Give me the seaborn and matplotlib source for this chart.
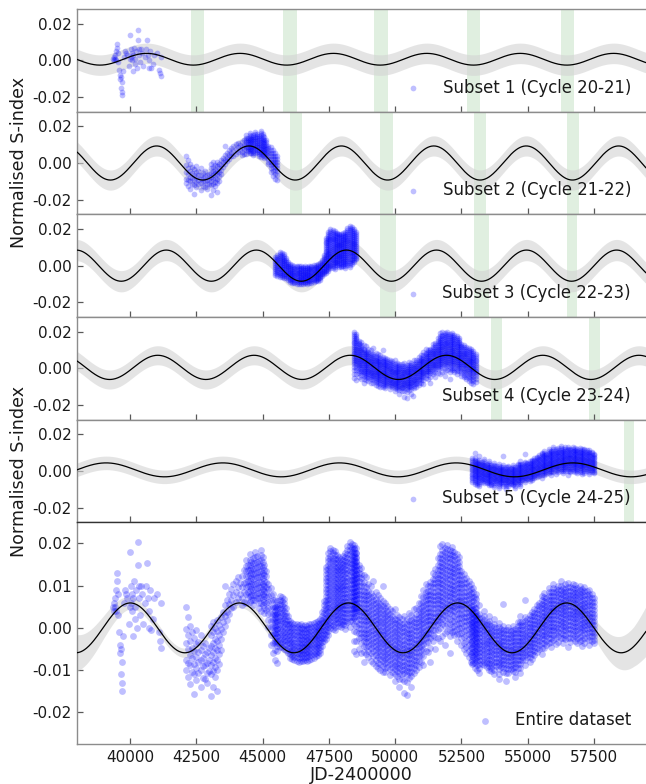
import numpy as np
import pandas as pd
import matplotlib
matplotlib.use("Agg")
import matplotlib.pyplot as plt
import seaborn as sns

sns.set_style("ticks")
plt.rcParams["font.family"] = ["DejaVu Sans"]
plt.rcParams["axes.unicode_minus"] = False

# ------------------------------------------------------------------ data
# S-index values are stored in units of 1e-4
S1_X = [39350, 39380, 39400, 39420, 39450, 39470, 39480, 39500, 39520, 39540,
        39560, 39600, 39620, 39640, 39650, 39660, 39680, 39690, 39700, 39720,
        39760, 39800, 39850, 39900, 39950, 39980, 40000, 40020, 40040, 40060,
        40080, 40100, 40120, 40150, 40180, 40200, 40230, 40260, 40290, 40300,
        40320, 40350, 40380, 40420, 40450, 40500, 40550, 40600, 40650, 40680,
        40700, 40730, 40760, 40790, 40850, 40900, 41000, 41100, 41130, 41150, 41170]
S1_Y = [10, 20, 0, 30, 10, 0, 50, 70, 90, 40,
        -10, -50, -80, -100, -90, -150, -170, -120, -190, -60,
        20, 50, 40, 30, -30, 10, 140, 60, 20, 0,
        40, -60, 30, 70, 10, -20, 50, -40, 164, 110,
        60, 30, -10, 60, 40, -30, 20, 60, 113, 30,
        -40, 0, 50, -44, -20, 30, 40, -50, -70, -87, 20]

S2_COLS = [42100, 42180, 42260, 42340, 42420, 42500, 42580, 42660, 42740, 42820,
           42900, 42980, 43070, 43130, 43200, 43270, 43340, 43420, 43500, 43580,
           43660, 43740, 43820, 43900, 43980, 44060, 44140, 44220, 44300, 44370,
           44440, 44510, 44580, 44650, 44720, 44790, 44860, 44930, 45000, 45070,
           45140, 45220, 45300, 45380, 45460, 45530]
S2_VALS = [[40, -12, -47, -85, -110], [15, -28, -61, -93, -127], [-6, -41, -74, -99, -142],
           [-20, -57, -81, -115], [-33, -64, -95, -119, -167], [-15, -48, -78, -106, -133],
           [-44, -68, -91, -116], [-26, -63, -86, -109, -150], [-53, -82, -100, -128],
           [-46, -73, -99, -131], [-66, -93, -117, -141], [-58, -86, -112],
           [-5, -28, -53, -74, -99, -120, -172], [3, -20, -45, -66, -90, -113, -150],
           [-11, -36, -57, -81, -103, -127], [8, -17, -41, -62, -87, -109, -160],
           [-4, -26, -51, -72, -96], [15, -12, -36, -62], [28, 3, -20], [90, 44, 17, -6],
           [55, 28, 9], [71, 46, 23], [83, 57, 36], [94, 67, 39], [101, 76, 51],
           [110, 86, 61], [96, 71], [113, 87, 61, 44], [126, 97, 76, 51],
           [150, 137, 124, 112, 99, 86, 71, 48], [138, 126, 113, 101, 88, 75, 63],
           [165, 151, 139, 126, 114, 101, 89, 77, 65, 52], [145, 132, 119, 107, 94, 81, 69, 57],
           [155, 143, 130, 118, 105, 93, 80, 68, 55, 44], [170, 157, 144, 132, 119, 107, 94, 82, 69, 55],
           [160, 147, 135, 122, 110, 97, 85, 72, 60], [148, 136, 123, 111, 98, 86, 73, 61, 48, 38],
           [175, 162, 150, 137, 124, 112, 99, 87, 74, 62, 49, 30], [158, 145, 133, 120, 108, 95, 83, 70, 58, 45],
           [140, 127, 115, 102, 90, 77, 65, 52, 38, 25], [125, 112, 99, 87, 74, 62, 49, 32],
           [95, 81, 66, 52, 37, 23, 8, -8], [85, 69, 54, 38, 23, 7, -9, -27, -50],
           [70, 55, 39, 24, 8, -8, -23, -45, -70], [55, 39, 24, 8, -8, -23, -40, -62, -85],
           [40, 22, 5, -12, -29, -46, -64, -94]]

S3_COLS = [45480, 45560, 45640, 45720, 45800, 45880, 45960, 46040, 46120, 46200,
           46280, 46360, 46440, 46520, 46600, 46680, 46760, 46840, 46920, 47000,
           47080, 47160, 47240, 47320, 47400, 47480, 47560, 47640, 47720, 47800,
           47880, 47960, 48040, 48120, 48200, 48280, 48360, 48440, 48520]
S3_VALS = [[45, 34, 24, 14, 4, -7, -17, -28, -39, -50],
           [60, 49, 39, 29, 18, 8, -3, -13, -24, -35, -46, -58],
           [74, 63, 52, 42, 31, 21, 10, 0, -11, -21, -32, -42, -52, -62],
           [70, 59, 49, 38, 27, 16, 6, -5, -16, -27, -38, -49, -62],
           [66, 55, 44, 33, 23, 12, 1, -10, -21, -32, -43, -54, -66],
           [40, 29, 19, 8, -2, -13, -24, -35, -46, -57, -70],
           [20, 10, 0, -10, -20, -31, -41, -52, -63, -76],
           [8, -2, -12, -22, -32, -42, -52, -62, -72, -81, -90],
           [2, -8, -18, -28, -38, -48, -57, -66, -75, -85, -94],
           [-2, -12, -21, -31, -40, -50, -59, -68, -78, -87, -96],
           [0, -10, -20, -29, -39, -48, -58, -68, -78, -88, -98],
           [-4, -14, -23, -33, -42, -52, -62, -71, -81, -90, -100],
           [-2, -12, -21, -31, -41, -50, -60, -69, -79, -88, -98],
           [-5, -15, -24, -34, -43, -53, -62, -72, -81, -90, -99],
           [-3, -13, -22, -32, -41, -51, -60, -69, -78, -87, -96],
           [-6, -15, -25, -34, -44, -53, -62, -71, -80, -89, -98],
           [-2, -12, -21, -30, -40, -49, -58, -67, -77, -86, -95],
           [0, -10, -19, -28, -37, -46, -55, -64, -74, -83, -92],
           [2, -8, -17, -26, -35, -44, -53, -62, -71, -80, -90],
           [5, -5, -14, -23, -32, -41, -50, -59, -68, -77, -86],
           [8, -2, -11, -20, -29, -38, -47, -56, -65, -74, -82],
           [12, 2, -7, -16, -25, -34, -43, -52, -61, -70, -78],
           [30, 20, 10, 1, -9, -19, -29, -38, -48, -58],
           [60, 49, 38, 27, 16, 5, -6, -17, -28, -37, -46],
           [150, 140, 130, 121, 111, 101, 92, 82, 73, 63, 54, 44, 35, 25, 16, 6, -3, -13, -22, -31, -40],
           [185, 174, 164, 153, 143, 133, 122, 112, 102, 92, 81, 71, 61, 51, 41, 30, 20, 10, 0, -10, -20, -30],
           [200, 190, 179, 169, 159, 148, 138, 128, 117, 107, 97, 86, 76, 66, 55, 45, 35, 24, 14, 4, -4, -12],
           [195, 185, 174, 164, 153, 143, 133, 122, 112, 101, 91, 81, 70, 60, 49, 39, 29, 18, 8, -3, -15],
           [190, 180, 169, 159, 148, 138, 127, 117, 106, 96, 85, 75, 64, 54, 43, 33, 22, 12, 1, -9, -18],
           [180, 170, 160, 150, 140, 130, 120, 110, 100, 90, 80, 70, 60, 50, 40, 30, 21, 12, 2],
           [175, 165, 155, 145, 135, 125, 115, 105, 95, 85, 75, 65, 55, 45, 35, 25, 15, 5, -5],
           [170, 160, 150, 140, 130, 120, 110, 100, 90, 80, 70, 60, 50, 40, 30, 20, 10, 0, -10],
           [178, 168, 158, 148, 138, 128, 118, 108, 98, 88, 78, 68, 58, 48, 38, 28, 18, 8, -2],
           [185, 175, 164, 154, 143, 133, 122, 112, 101, 91, 80, 70, 59, 49, 38, 28, 17, 7, -4, -15],
           [205, 195, 184, 174, 163, 153, 142, 132, 121, 111, 100, 90, 79, 69, 58, 48, 37, 27, 16, 5],
           [215, 204, 193, 182, 171, 160, 149, 138, 127, 116, 105, 94, 83, 72, 61, 50, 39, 28, 17, 6, -8],
           [210, 199, 188, 178, 167, 156, 146, 135, 124, 114, 103, 92, 82, 71, 60, 50, 39, 29, 18, 8],
           [200, 189, 179, 168, 158, 147, 137, 126, 116, 105, 95, 84, 74, 63, 53, 42, 32, 18],
           [185, 174, 163, 152, 141, 130, 119, 108, 97, 86, 75, 64, 53, 42, 35]]

S4_COLS = [48450, 48540, 48630, 48720, 48810, 48900, 48990, 49080, 49170, 49260,
           49350, 49440, 49530, 49620, 49710, 49800, 49890, 49980, 50070, 50160,
           50250, 50340, 50430, 50520, 50610, 50700, 50790, 50880, 50970, 51060,
           51150, 51240, 51330, 51420, 51510, 51600, 51690, 51780, 51870, 51960,
           52050, 52140, 52230, 52320, 52410, 52500, 52590, 52680, 52770, 52860,
           52950, 53040]
S4_VALS = [[196, 186, 176, 166, 156, 146, 136, 126, 116, 106, 96, 86, 76, 66, 56, 46, 36, 24, 8, -8, -30, -55],
           [188, 178, 168, 158, 148, 138, 128, 118, 108, 98, 88, 78, 68, 58, 48, 38, 28, 16, 4, -10, -30, -62],
           [150, 140, 130, 120, 110, 100, 90, 80, 70, 60, 50, 40, 30, 20, 10, 0, -12, -25, -50],
           [142, 128, 118, 108, 98, 88, 78, 68, 58, 48, 38, 28, 18, 8, -2, -12, -22, -35, -60],
           [125, 108, 98, 88, 78, 68, 58, 48, 38, 28, 18, 8, -2, -12, -22, -32, -44, -58, -80],
           [120, 96, 86, 76, 66, 56, 46, 36, 26, 16, 6, -4, -14, -24, -34, -46, -62],
           [105, 88, 78, 68, 58, 48, 38, 28, 18, 8, -2, -12, -22, -32, -42, -55, -70],
           [98, 82, 72, 62, 52, 42, 32, 22, 12, 2, -8, -18, -28, -38, -48, -60, -78],
           [110, 76, 66, 56, 46, 36, 26, 16, 6, -4, -14, -24, -34, -44, -54, -66, -82],
           [85, 68, 58, 48, 38, 28, 18, 8, -2, -12, -22, -32, -42, -52, -64, -76, -90],
           [78, 62, 52, 42, 32, 22, 12, 2, -8, -18, -28, -38, -48, -58, -70, -82, -95],
           [70, 56, 46, 36, 26, 16, 6, -4, -14, -24, -34, -44, -54, -64, -74, -86, -100],
           [98, 64, 52, 42, 32, 22, 12, 2, -8, -18, -28, -38, -48, -58, -68, -78, -90, -104],
           [58, 46, 36, 26, 16, 6, -4, -14, -24, -34, -44, -54, -64, -74, -84, -94, -105],
           [52, 40, 30, 20, 10, 0, -10, -20, -30, -40, -50, -60, -70, -80, -92],
           [45, 34, 24, 14, 4, -6, -16, -26, -36, -46, -56, -66, -76, -86, -98, -112],
           [40, 28, 18, 8, -2, -12, -22, -32, -42, -52, -62, -72, -82, -92, -104],
           [44, 22, 12, 2, -8, -18, -28, -38, -48, -58, -68, -78, -88, -98, -110, -125],
           [30, 18, 8, -2, -12, -22, -32, -42, -52, -62, -72, -82, -92, -102, -114],
           [25, 14, 4, -6, -16, -26, -36, -46, -56, -66, -76, -86, -96, -106, -120, -140],
           [22, 10, 0, -10, -20, -30, -40, -50, -60, -70, -80, -90, -100, -110, -122],
           [28, 12, 2, -8, -18, -28, -38, -48, -58, -68, -78, -88, -98, -108, -125, -155],
           [20, 8, -2, -12, -22, -32, -42, -52, -62, -72, -82, -92, -102, -112, -128, -160],
           [35, 16, 6, -4, -14, -24, -34, -44, -54, -64, -74, -84, -94, -104, -118],
           [30, 18, 8, -2, -12, -22, -32, -42, -52, -62, -72, -82, -92, -104, -115, -140],
           [45, 24, 14, 4, -6, -16, -26, -36, -46, -56, -66, -76, -86, -96, -108],
           [48, 32, 22, 12, 2, -8, -18, -28, -38, -48, -58, -68, -78, -88, -100],
           [60, 44, 34, 24, 14, 4, -6, -16, -26, -36, -46, -56, -66, -78, -92],
           [75, 58, 48, 38, 28, 18, 8, -2, -12, -22, -32, -42, -52, -64, -80],
           [90, 72, 62, 52, 42, 32, 22, 12, 2, -8, -18, -28, -38, -50, -66, -88],
           [105, 86, 76, 66, 56, 46, 36, 26, 16, 6, -4, -14, -24, -36, -54],
           [98, 88, 78, 68, 58, 48, 38, 28, 18, 8, -2, -12, -22, -34, -58],
           [108, 98, 88, 78, 68, 58, 48, 38, 28, 18, 8, -2, -12, -24, -48, -80],
           [130, 116, 106, 96, 86, 76, 66, 56, 46, 36, 26, 16, 6, -6, -18, -32],
           [140, 126, 116, 106, 96, 86, 76, 66, 56, 46, 36, 26, 16, 6, -6, -22, -50],
           [165, 148, 138, 128, 118, 108, 98, 88, 78, 68, 58, 48, 38, 28, 18, 8, -6, -25],
           [195, 176, 166, 156, 146, 136, 126, 116, 106, 96, 86, 76, 66, 56, 46, 36, 26, 14, 0, -30],
           [198, 184, 174, 164, 154, 144, 134, 124, 114, 104, 94, 84, 74, 64, 54, 44, 34, 22, 8, -20],
           [190, 180, 170, 160, 150, 140, 130, 120, 110, 100, 90, 80, 70, 60, 50, 40, 30, 18, 4, -12, -40],
           [196, 186, 176, 166, 156, 146, 136, 126, 116, 106, 96, 86, 76, 66, 56, 46, 36, 24, 10, -8],
           [185, 175, 165, 155, 145, 135, 125, 115, 105, 95, 85, 75, 65, 55, 45, 35, 22, 8, -6, -20, -60],
           [192, 182, 172, 162, 152, 142, 132, 122, 112, 102, 92, 82, 72, 62, 52, 42, 30, 16, 2, -10],
           [180, 170, 160, 150, 140, 130, 120, 110, 100, 90, 80, 70, 60, 50, 40, 28, 16, 4, -8, -18],
           [175, 164, 154, 144, 134, 124, 114, 104, 94, 84, 74, 64, 54, 44, 34, 22, 10, -2, -14, -30],
           [168, 156, 146, 136, 126, 116, 106, 96, 86, 76, 66, 56, 46, 36, 24, 12, 0, -15],
           [135, 124, 114, 104, 94, 84, 74, 64, 54, 44, 34, 24, 12, 0, -12, -25, -40],
           [128, 116, 106, 96, 86, 76, 66, 56, 46, 36, 26, 16, 4, -8, -22, -35, -50],
           [118, 106, 96, 86, 76, 66, 56, 46, 36, 26, 16, 6, -6, -18, -32, -45, -60],
           [110, 98, 88, 78, 68, 58, 48, 38, 28, 18, 8, -2, -14, -26, -40, -55, -70],
           [105, 92, 82, 72, 62, 52, 42, 32, 22, 12, 2, -8, -20, -34, -48, -62, -80],
           [95, 84, 74, 64, 54, 44, 34, 24, 14, 4, -6, -16, -28, -42, -56, -70, -83],
           [80, 68, 58, 48, 38, 28, 18, 8, -2, -12, -22, -32, -44, -58, -72]]

S5_COLS = [52910, 53000, 53090, 53180, 53270, 53360, 53450, 53540, 53630, 53720,
           53810, 53900, 53990, 54080, 54170, 54260, 54350, 54440, 54530, 54620,
           54710, 54800, 54890, 54980, 55070, 55160, 55250, 55340, 55430, 55520,
           55610, 55700, 55790, 55880, 55970, 56060, 56150, 56240, 56330, 56420,
           56510, 56600, 56690, 56780, 56870, 56960, 57050, 57140, 57230, 57320,
           57410, 57500]
S5_VALS = [[70, 60, 50, 40, 31, 22, 13, 4, -5, -14, -23, -32, -41, -50, -60],
           [99, 72, 62, 52, 43, 34, 25, 16, 7, -2, -11, -20, -29, -38, -48, -58, -70],
           [55, 46, 37, 28, 19, 10, 1, -8, -17, -26, -35, -44, -54, -64, -75],
           [80, 58, 49, 40, 31, 22, 13, 4, -5, -14, -23, -32, -41, -50, -60, -70, -83],
           [48, 39, 30, 21, 12, 3, -6, -15, -24, -33, -42, -51, -60],
           [65, 53, 44, 35, 26, 17, 8, -1, -10, -19, -28, -37, -46, -55, -64],
           [40, 31, 22, 13, 4, -5, -14, -23, -32, -41, -50, -59, -68],
           [52, 42, 33, 24, 15, 6, -3, -12, -21, -30, -39, -48, -57, -66, -75],
           [30, 21, 12, 3, -6, -15, -24, -33, -42, -51, -60, -69, -78],
           [45, 35, 26, 17, 8, -1, -10, -19, -28, -37, -46, -55, -64, -74, -85],
           [25, 16, 7, -2, -11, -20, -29, -38, -47, -56, -65],
           [36, 26, 17, 8, -1, -10, -19, -28, -37, -46, -55, -64, -73, -84, -95],
           [22, 13, 4, -5, -14, -23, -32, -41, -50, -59, -68],
           [81, 30, 21, 12, 3, -6, -15, -24, -33, -42, -51, -60, -70, -80],
           [20, 11, 2, -7, -16, -25, -34, -43, -52, -61, -70, -82, -100],
           [28, 19, 10, 1, -8, -17, -26, -35, -44, -53, -62, -72, -82],
           [18, 9, 0, -9, -18, -27, -36, -45, -54, -63, -72],
           [30, 21, 12, 3, -6, -15, -24, -33, -42, -51, -60, -69, -78],
           [22, 13, 4, -5, -14, -23, -32, -41, -50, -59, -68, -80, -92],
           [40, 30, 21, 12, 3, -6, -15, -24, -33, -42, -51, -60, -70],
           [54, 40, 31, 22, 13, 4, -5, -14, -23, -32, -41, -50, -60, -71, -83],
           [38, 29, 20, 11, 2, -7, -16, -25, -34, -43, -50],
           [90, 50, 41, 32, 23, 14, 5, -4, -13, -22, -31, -40, -50, -62],
           [45, 36, 27, 18, 9, 0, -9, -18, -27, -36, -45],
           [55, 46, 37, 28, 19, 10, 1, -8, -17, -26, -35, -45, -55],
           [62, 53, 44, 35, 26, 17, 8, -1, -10, -19, -28, -38, -48],
           [70, 61, 52, 43, 34, 25, 16, 7, -2, -11, -20, -30, -40],
           [78, 69, 60, 51, 42, 33, 24, 15, 6, -3, -12, -22, -32],
           [85, 76, 67, 58, 49, 40, 31, 22, 13, 4, -5, -15, -26],
           [100, 90, 81, 72, 63, 54, 45, 36, 27, 18, 9, 0, -10, -22, -37],
           [108, 98, 89, 80, 71, 62, 53, 44, 35, 26, 17, 8, -2, -12, -22],
           [95, 86, 77, 68, 59, 50, 41, 32, 23, 14, 5, -5, -16],
           [120, 110, 100, 91, 82, 73, 64, 55, 46, 37, 28, 19, 10, 0, -12],
           [110, 101, 92, 83, 74, 65, 56, 47, 38, 29, 20, 11, 2, -8, -20],
           [130, 119, 109, 100, 91, 82, 73, 64, 55, 46, 37, 28, 19, 8, -4],
           [118, 109, 100, 91, 82, 73, 64, 55, 46, 37, 28, 19, 10, 0, -14],
           [125, 115, 106, 97, 88, 79, 70, 61, 52, 43, 34, 25, 16, 5, -8],
           [135, 124, 114, 105, 96, 87, 78, 69, 60, 51, 42, 33, 24, 13, 0],
           [120, 111, 102, 93, 84, 75, 66, 57, 48, 39, 30, 21, 11, 0, -10],
           [128, 118, 109, 100, 91, 82, 73, 64, 55, 46, 37, 28, 19, 9, -2],
           [132, 122, 113, 104, 95, 86, 77, 68, 59, 50, 41, 32, 23, 12, 0, -20],
           [122, 113, 104, 95, 86, 77, 68, 59, 50, 41, 32, 23, 13, 2, -8],
           [130, 120, 111, 102, 93, 84, 75, 66, 57, 48, 39, 30, 20, 10, 0],
           [126, 117, 108, 99, 90, 81, 72, 63, 54, 45, 36, 27, 17, 6, -5],
           [120, 111, 102, 93, 84, 75, 66, 57, 48, 39, 30, 21, 11, 0, -12],
           [124, 115, 106, 97, 88, 79, 70, 61, 52, 43, 34, 25, 15, 4, -6],
           [118, 109, 100, 91, 82, 73, 64, 55, 46, 37, 28, 19, 9, -4, -18],
           [122, 112, 103, 94, 85, 76, 67, 58, 49, 40, 31, 22, 12, 1, -10],
           [112, 103, 94, 85, 76, 67, 58, 49, 40, 31, 22, 12, 0],
           [115, 106, 97, 88, 79, 70, 61, 52, 43, 34, 25, 16, 6, -4, -15],
           [105, 96, 87, 78, 69, 60, 51, 42, 33, 24, 15, 5, -7],
           [95, 86, 77, 68, 59, 50, 41, 32, 23, 14, 5, -4, -12]]

# normalisation of each subset within the entire dataset (offset in 1e-4, scale)
ENTIRE_OFFSET = [40, 10, 10, 0, -25]
ENTIRE_SCALE = [1.0, 1.0, 0.9, 1.0, 1.0]

LABELS = ["Subset 1 (Cycle 20-21)", "Subset 2 (Cycle 21-22)", "Subset 3 (Cycle 22-23)",
          "Subset 4 (Cycle 23-24)", "Subset 5 (Cycle 24-25)", "Entire dataset"]

# sinusoidal fits: period, epoch of maximum, amplitude, offset, band half-width
FIT_PERIOD = [3522, 3485, 3397, 3630, 4400, 4114]
FIT_TMAX = [40626, 41002, 41366, 41045, 39098, 40010]
FIT_AMP = [0.0032, 0.0093, 0.0085, 0.0066, 0.0038, 0.0059]
FIT_OFFSET = [0.0006, 0.0, 0.0, 0.0005, 0.0006, 0.0]
FIT_BAND = [0.0056, 0.0055, 0.0058, 0.0052, 0.0037]
BAND6_X = [38000, 39000, 40000, 41000, 56000, 57000, 58000, 59000, 59500]
BAND6_W = [0.0043, 0.0027, 0.0014, 0.0011, 0.0011, 0.0015, 0.0031, 0.0047, 0.0060]

# predicted minima windows (green)
MIN1 = [(42286, 42775), (45788, 46315), (49215, 49742), (52717, 53207), (56257, 56747)]
MIN2 = [(46015, 46500), (49441, 49931), (52955, 53433), (56471, 56935)]
MIN3 = [(49441, 50044), (52955, 53520), (56471, 56871)]
MIN4 = [(53623, 54025), (57325, 57727)]
MIN5 = [(58630, 59006)]

XTICKS = [40000, 42500, 45000, 47500, 50000, 52500, 55000, 57500]
YTICKS_SMALL = [-0.02, 0.0, 0.02]
YTICKLABELS_SMALL = ["-0.02", "0.00", "0.02"]
YTICKS_BIG = [-0.02, -0.01, 0.0, 0.01, 0.02]
YTICKLABELS_BIG = ["-0.02", "-0.01", "0.00", "0.01", "0.02"]
XLIM = (38000, 59460)
MARKER_SIZE = [17, 17, 17, 17, 17, 24]


def expand(cols, vals):
    xs, ys = [], []
    for x, v in zip(cols, vals):
        xs += [x] * len(v)
        ys += [y * 1e-4 for y in v]
    return xs, ys


subsets = [(S1_X, [y * 1e-4 for y in S1_Y]),
           expand(S2_COLS, S2_VALS), expand(S3_COLS, S3_VALS),
           expand(S4_COLS, S4_VALS), expand(S5_COLS, S5_VALS)]
frames = []
for k, (xs, ys) in enumerate(subsets):
    frames.append(pd.DataFrame({"jd": xs, "s": ys}))
entire = []
for k, (xs, ys) in enumerate(subsets):
    entire.append(pd.DataFrame({"jd": xs,
                                "s": [y * ENTIRE_SCALE[k] + ENTIRE_OFFSET[k] * 1e-4 for y in ys]}))
frames.append(pd.concat(entire, ignore_index=True))
mins = [MIN1, MIN2, MIN3, MIN4, MIN5, []]

# ------------------------------------------------------------------ figure
fig = plt.figure(figsize=(6.46, 7.84), dpi=100)
gs = fig.add_gridspec(6, 1, height_ratios=[1, 1, 1, 1, 1, 2.16], hspace=0,
                      left=0.1192, right=1.0, top=0.9885, bottom=0.051)
axes = [fig.add_subplot(gs[i]) for i in range(6)]
grid = np.linspace(XLIM[0], XLIM[1], 1200)

for i, ax in enumerate(axes):
    model = FIT_OFFSET[i] + FIT_AMP[i] * np.cos(2 * np.pi * (grid - FIT_TMAX[i]) / FIT_PERIOD[i])
    if i < 5:
        w = FIT_BAND[i]
    else:
        w = np.interp(grid, BAND6_X, BAND6_W)
    for a, b in mins[i]:
        ax.axvspan(a, b, color="green", alpha=0.12, lw=0, zorder=0.5)
    ax.fill_between(grid, model - w, model + w, color="lightgray", alpha=0.6, lw=0, zorder=1)
    sns.scatterplot(data=frames[i], x="jd", y="s", ax=ax, color="blue", alpha=0.25,
                    s=MARKER_SIZE[i], linewidth=0, label=LABELS[i], zorder=3)
    sns.lineplot(x=grid, y=model, ax=ax, color="black", lw=0.9, zorder=4)

    ax.set_xlim(*XLIM)
    ax.set_xticks(XTICKS)
    if i < 5:
        ax.set_ylim(-0.028, 0.028)
        ax.set_yticks(YTICKS_SMALL)
        ax.set_yticklabels(YTICKLABELS_SMALL)
        ax.tick_params(axis="x", labelbottom=False)
    else:
        ax.set_ylim(-0.0275, 0.025)
        ax.set_yticks(YTICKS_BIG)
        ax.set_yticklabels(YTICKLABELS_BIG)
        ax.set_xticklabels([str(t) for t in XTICKS])
    ax.set_xlabel("")
    ax.set_ylabel("")
    ax.tick_params(direction="in", length=4, width=0.9, color="0.35",
                   labelsize=11, labelcolor="0.1", pad=4)
    for side, sp in ax.spines.items():
        sp.set_color("0.55")
        sp.set_linewidth(1.0)
    ax.spines["right"].set_visible(False)
    leg = ax.legend(loc="lower right", frameon=False, fontsize=11.9,
                    handletextpad=0.8, borderaxespad=0.5)
    for t in leg.get_texts():
        t.set_color("0.1")

axes[5].spines["top"].set_color("0.2")
axes[5].set_xlabel("JD-2400000", fontsize=12.6, color="0.1", labelpad=1)
fig.text(0.029, 1 - 162 / 784, "Normalised S-index", rotation=90, va="center",
         ha="center", fontsize=12.6, color="0.1")
fig.text(0.029, 1 - 471 / 784, "Normalised S-index", rotation=90, va="center",
         ha="center", fontsize=12.6, color="0.1")

fig.savefig("out.png", dpi=100)
